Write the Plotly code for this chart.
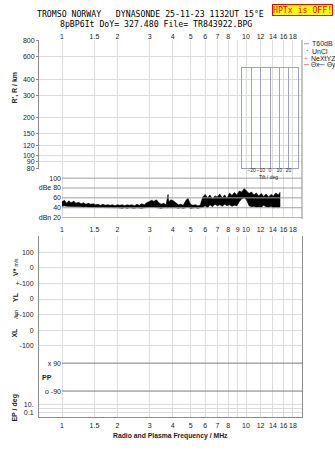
import plotly.graph_objects as go

W, H = 335, 451
def X(px): return px / W
def Y(py): return 1 - py / H

# ---------------- data ----------------
freq = [1.00, 1.03, 1.06, 1.09, 1.12, 1.16, 1.19, 1.23, 1.27, 1.31, 1.35, 1.39, 1.43, 1.48, 1.52,
        1.57, 1.62, 1.67, 1.72, 1.77, 1.83, 1.88, 1.94, 2.00, 2.06, 2.13, 2.19, 2.26, 2.33, 2.40,
        2.48, 2.55, 2.63, 2.71, 2.80, 2.88, 2.97, 3.06, 3.16, 3.26, 3.36, 3.46, 3.57, 3.68, 3.77,
        3.80, 3.91, 4.03, 4.16, 4.29, 4.42, 4.56, 4.70, 4.84, 4.99, 5.15, 5.31, 5.47, 5.64, 5.82,
        6.00, 6.18, 6.37, 6.57, 6.78, 6.99, 7.20, 7.43, 7.66, 7.89, 8.14, 8.39, 8.65, 8.92, 9.19,
        9.48, 9.77, 10.07, 10.39, 10.71, 11.04, 11.38, 11.73, 12.10, 12.47, 12.86, 13.26, 13.67,
        14.09, 14.53, 14.98, 15.30]
power_hi = [52, 55, 49, 54, 50, 53, 49, 51, 48, 50, 47, 49, 47, 48, 46,
            47, 45, 47, 45, 46, 45, 46, 44, 46, 45, 46, 44, 46, 45, 46,
            44, 47, 45, 48, 46, 50, 52, 55, 53, 56, 50, 47, 49, 46, 67,
            52, 56, 54, 50, 46, 47, 45, 54, 59, 47, 45, 46, 44, 45, 62,
            67, 60, 66, 58, 64, 62, 68, 60, 66, 59, 70, 65, 71, 66, 74,
            72, 79, 74, 69, 72, 66, 70, 64, 69, 63, 68, 62, 67,
            64, 70, 66, 71]
power_lo = [43, 44, 43, 43, 42, 42, 42, 42, 42, 41, 42, 41, 41, 41, 41,
            41, 40, 41, 40, 40, 40, 40, 40, 40, 40, 39, 40, 39, 40, 40,
            39, 40, 40, 39, 40, 40, 41, 41, 41, 40, 40, 39, 40, 40, 40,
            40, 41, 40, 40, 39, 40, 39, 40, 41, 39, 39, 40, 39, 40, 41,
            44, 40, 46, 42, 47, 44, 46, 43, 47, 44, 46, 43, 45, 44, 52,
            58, 60, 56, 44, 42, 43, 41, 42, 41, 45, 42, 41, 43,
            40, 41, 40, 41]

freq_ticks = [1, 1.5, 2, 3, 4, 5, 6, 7, 8, 9, 10, 12, 14, 16, 18]
top_labels = ["1", "1.5", "2", "3", "4", "5", "6", "7", "8", "", "10", "12", "14", "16", "18"]
mid_labels = ["1", "1.5", "2", "3", "4", "5", "6", "7", "8", "9", "10", "12", "14", "16", "18"]
bottom_labels = ["1", "1.5", "2", "3", "4", "5", "6", "7", "8", "", "10", "12", "14", "16", "18"]

range_ticks = [80, 90, 100, 120, 150, 200, 300, 400, 600, 800]
power_ticks = [20, 40, 60, 80, 100]
power_ticktext = ["dBn 20", "40", "60", "dBe 80", "100"]
ref_levels = [100, 80, 60, 40]
noise_levels = [20]
tilt_ticks = [-20, -10, 0, 10, 20]
pp_levels = [90, -90]
pp_labels = ["x 90", "o -90"]
lower_labels = ["100", "0", "+-100", "0", "+-100", "0", "-100", "10.", "", "0.1"]

# ---------------- layout geometry ----------------
LEFT, RIGHT = 39, 302
F1 = 62            # pixel of 1 MHz
DEC = 184.0        # pixels per decade
xr = [(LEFT - F1) / DEC, (RIGHT - F1) / DEC]
fmax = 10 ** xr[1]

TOP0, TOP1 = 37.5, 168
dec_r = 128.8
ytop = 2.90309 + 1.0 / dec_r
yr_top = [ytop - (TOP1 - TOP0) / dec_r, ytop]

PW0, PW1 = 168, 218
BOT0, BOT1 = 236, 419.3
lower_px = [252.7, 268.3, 284, 300, 316, 331.7, 347.3, 406.7, 411, 415.5]
lower_vals = [BOT1 - p for p in lower_px]
pp_a = (BOT1 - 365 + BOT1 - 393.3) / 2
pp_k = 180 / ((BOT1 - 365) - (BOT1 - 393.3))
y4r = [(0 - pp_a) * pp_k, ((BOT1 - BOT0) - pp_a) * pp_k]

grid = "#dcdcdc"
axc = "#8c8c8c"
tf = dict(family="Liberation Sans", size=7, color="#222")

fig = go.Figure()

fig.add_trace(go.Scatter(x=freq + freq[::-1], y=power_hi + power_lo[::-1], fill="toself",
                         fillcolor="black", line=dict(color="black", width=0.6),
                         mode="lines", xaxis="x3", yaxis="y2", hoverinfo="skip"))
for lv in ref_levels:
    fig.add_trace(go.Scatter(x=[1, fmax], y=[lv, lv], mode="lines",
                             line=dict(color="#a0a0a0", width=1), xaxis="x3", yaxis="y2"))
for lv in noise_levels:
    fig.add_trace(go.Scatter(x=[1, fmax], y=[lv, lv], mode="lines",
                             line=dict(color="#a8a8e8", width=1), xaxis="x3", yaxis="y2"))
for lv in pp_levels:
    fig.add_trace(go.Scatter(x=[1, fmax], y=[lv, lv], mode="lines",
                             line=dict(color="#7a7a7a", width=1), xaxis="x", yaxis="y4"))
fig.add_trace(go.Scatter(x=[None], y=[None], xaxis="x2", yaxis="y"))
fig.add_trace(go.Scatter(x=[None], y=[None], xaxis="x", yaxis="y3"))
fig.add_trace(go.Scatter(x=[None], y=[None], xaxis="x4", yaxis="y5"))

xcommon = dict(type="log", range=xr, domain=[X(LEFT), X(RIGHT)], tickvals=freq_ticks,
               showgrid=True, gridcolor=grid, gridwidth=1, zeroline=False, tickfont=tf,
               ticks="", tickangle=0)

fig.update_layout(
    width=W, height=H, margin=dict(l=0, r=0, t=0, b=0),
    paper_bgcolor="white", plot_bgcolor="rgba(0,0,0,0)", showlegend=False,
    xaxis=dict(**xcommon, anchor="y3", ticktext=bottom_labels, showline=True, linecolor=axc,
               ticklabelstandoff=2),
    xaxis2=dict(**xcommon, anchor="y", side="top", ticktext=top_labels, showline=False,
                ticklabelstandoff=-1, matches="x"),
    xaxis3=dict(**xcommon, anchor="y2", ticktext=mid_labels, showline=False,
                ticklabelstandoff=6, matches="x"),
    xaxis4=dict(range=[-30, 30], domain=[X(242.3), X(297.7)], anchor="y5",
                tickvals=tilt_ticks, showgrid=True, gridcolor="#a0a0c4", showline=True,
                mirror=True, linecolor="#a0a0c4", zeroline=False, ticks="", tickangle=0,
                tickfont=dict(family="Liberation Sans", size=5, color="#222"),
                ticklabelstandoff=-3),
    yaxis=dict(type="log", range=yr_top, domain=[Y(TOP1), Y(TOP0)], anchor="x2",
               tickvals=range_ticks, showgrid=True, gridcolor=grid, showline=True,
               linecolor=axc, ticks="outside", ticklen=2, tickcolor=axc, tickfont=tf,
               zeroline=False),
    yaxis2=dict(range=[19, 119], domain=[Y(PW1), Y(PW0)], anchor="free", position=X(F1),
                tickvals=power_ticks, ticktext=power_ticktext, showgrid=False, showline=False,
                zeroline=False, ticks="", tickfont=tf, ticklabelstandoff=1),
    yaxis3=dict(range=[0, BOT1 - BOT0], domain=[Y(BOT1), Y(BOT0)], anchor="x",
                tickvals=lower_vals, ticktext=lower_labels, showgrid=True, gridcolor=grid,
                showline=True, mirror=True, linecolor=axc, zeroline=False, ticks="",
                tickfont=tf, ticklabelstandoff=3),
    yaxis4=dict(range=y4r, domain=[Y(BOT1), Y(BOT0)], overlaying="y3", anchor="free",
                position=X(F1), tickvals=pp_levels, ticktext=pp_labels, showgrid=False,
                showline=False, zeroline=False, ticks="", tickfont=tf, ticklabelstandoff=1),
    yaxis5=dict(range=[0, 1], domain=[Y(167.7), Y(65.7)], anchor="x4", showline=True,
                mirror=True, linecolor="#a0a0c4", showticklabels=False, showgrid=False,
                zeroline=False, ticks=""),
)

fig.add_shape(type="line", xref="paper", yref="paper", x0=X(RIGHT), x1=X(RIGHT),
              y0=Y(219), y1=Y(TOP0), line=dict(color=axc, width=1))

def ann(text, px, py, size=7, color="#222", family="Liberation Sans", angle=0,
        xanchor="center", **kw):
    fig.add_annotation(text=text, x=X(px), y=Y(py), xref="paper", yref="paper",
                       showarrow=False, xanchor=xanchor, yanchor="middle", textangle=angle,
                       font=dict(family=family, size=size, color=color), **kw)

mono = "DejaVu Sans Mono"
ann("TROMSO NORWAY   DYNASONDE 25-11-23 1132UT 15°E", 150, 11.0, size=8.2, color="black",
    family=mono, borderpad=0)
ann("8pBP6It DoY= 327.480 File= TR843922.BPG", 156, 20.9, size=8.2, color="black",
    family=mono, borderpad=0)
ann("HPTx is OFF!", 302.5, 6.7, size=8.2, color="#ff0000", family=mono,
    bgcolor="#ffff00", bordercolor="#ff0000", borderwidth=1, borderpad=0)

# legend
fig.add_shape(type="line", xref="paper", yref="paper", x0=X(304), x1=X(309), y0=Y(41.3), y1=Y(41.3),
              line=dict(color="#a0a0a0", width=1))
ann("T60dB", 310, 41, xanchor="left")
ann("·", 307, 48.3, size=8, color="#333")
ann("UnCl", 310, 48.7, xanchor="left")
ann("+", 305.5, 56, size=7, color="#e070a0")
ann("NeXtYZ", 309, 56, xanchor="left")
fig.add_shape(type="line", xref="paper", yref="paper", x0=X(304), x1=X(309), y0=Y(62.5), y1=Y(62.5),
              line=dict(color="#f08080", width=1))
ann("Θx", 309.3, 62.5, xanchor="left", size=6.5)
fig.add_shape(type="line", xref="paper", yref="paper", x0=X(318), x1=X(324.5), y0=Y(62.5), y1=Y(62.5),
              line=dict(color="#7080f0", width=1))
ann("Θy", 324.5, 62.5, xanchor="left", size=6.5)

# axis titles
ann("<b>R', R / km</b>", 14.7, 86, angle=-90)
ann("Tilt / deg", 268, 176.2, size=5)
ann("<b>V*</b> <span style='font-size:5px'>m/s</span>", 15.5, 268, angle=-90)
ann("<b>YL</b>", 15, 298, angle=-90)
ann("/km", 16.5, 315.5, size=5.5, angle=-90)
ann("<b>XL</b>", 15, 334, angle=-90)
ann("<b>PP</b>", 46.7, 380)
ann("<b>EP / deg</b>", 15, 410, angle=-90)
ann("<b>Radio and Plasma Frequency / MHz</b>", 170, 438.7, size=6.8)

fig.write_html("out.html")
